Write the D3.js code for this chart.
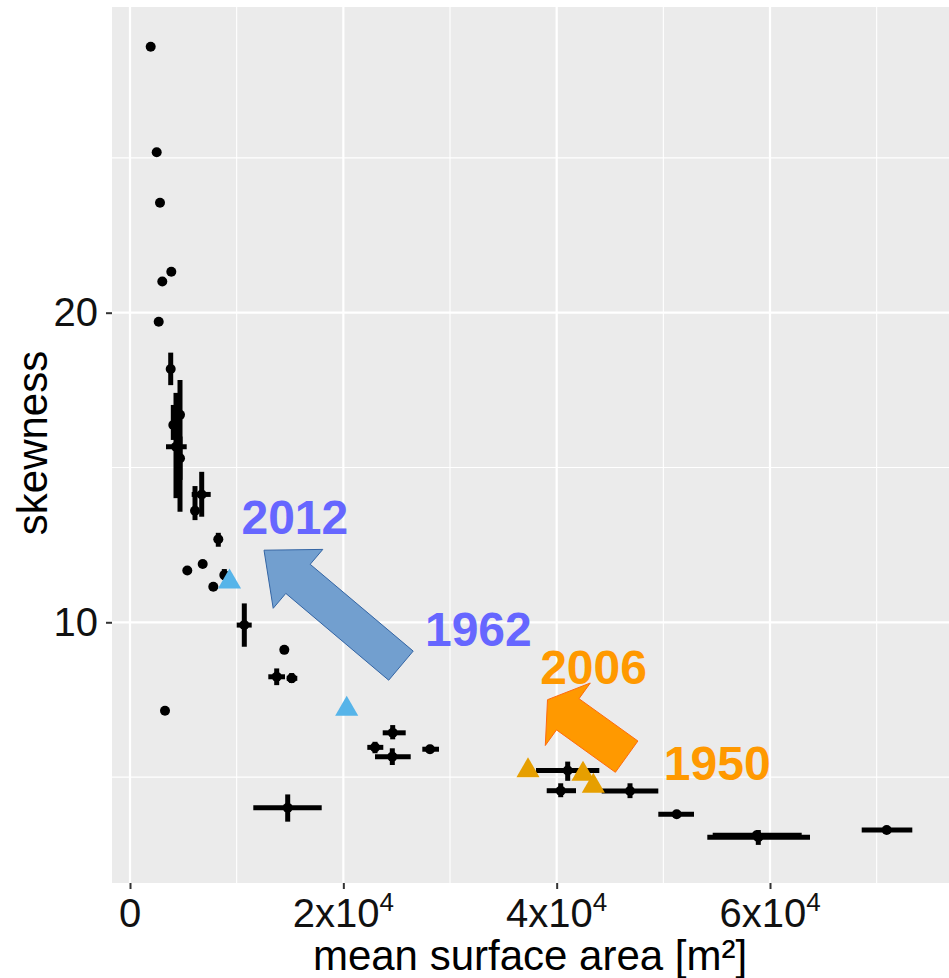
<!DOCTYPE html>
<html>
<head>
<meta charset="utf-8">
<script src="https://cdn.jsdelivr.net/npm/d3@7"></script>
<style>
  body { margin: 0; background: #fff; }
  svg { display: block; }
</style>
</head>
<body>
<div id="container"></div>
<script>
// black points: mean surface area (m2), skewness, and their ranges
let sa   = [1940, 2503, 2812, 3872, 3028, 2691, 3281, 3816, 4688, 4059, 4312, 4688, 6722, 6094, 8278, 5372, 6816, 7809, 8841, 10716, 14466, 13753, 15159, 24628, 22969, 24591, 28125, 14784, 41034, 40378, 46875, 51253, 58903, 58753, 70941];
let skew = [28.59, 25.18, 23.55, 21.32, 21.01, 19.71, 7.14, 18.18, 16.70, 16.37, 15.67, 15.30, 14.13, 13.60, 12.68, 11.67, 11.88, 11.15, 11.53, 9.91, 9.11, 8.24, 8.19, 6.43, 5.96, 5.66, 5.90, 4.01, 5.21, 4.56, 4.55, 3.80, 3.06, 3.12, 3.29];
let saLo = [1940, 2503, 2812, 3872, 3028, 2691, 3281, 3816, 4688, 4059, 3375, 4688, 5784, 6094, 8278, 5372, 6816, 7809, 8841, 10003, 14466, 12966, 14691, 23691, 22247, 22969, 27403, 11559, 38063, 39066, 44222, 49528, 54122, 54628, 68597];
let saHi = [1940, 2503, 2812, 3872, 3028, 2691, 3281, 3816, 4688, 4059, 5316, 4688, 7566, 6094, 8278, 5372, 6816, 7809, 8841, 11409, 14466, 14531, 15684, 25847, 23747, 26316, 28969, 17972, 43997, 41813, 49528, 52875, 63750, 62972, 73341];
let skLo = [28.59, 25.18, 23.55, 21.32, 21.01, 19.71, 7.14, 17.66, 13.57, 15.89, 14.01, 14.60, 13.41, 13.30, 12.44, 11.67, 11.88, 11.15, 11.37, 9.21, 9.11, 7.97, 8.04, 6.22, 5.77, 5.39, 5.77, 3.56, 4.88, 4.35, 4.32, 3.70, 2.81, 3.12, 3.29];
let skHi = [28.59, 25.18, 23.55, 21.32, 21.01, 19.71, 7.14, 18.71, 17.83, 17.02, 17.41, 16.00, 14.86, 14.40, 12.89, 11.67, 11.88, 11.15, 11.72, 10.61, 9.11, 8.51, 8.36, 6.68, 6.14, 5.93, 6.04, 4.44, 5.50, 4.80, 4.80, 3.88, 3.29, 3.12, 3.29];

// triangles: the two highlighted series
let triSa    = [9328, 20316, 37313, 42469, 43437];
let triSkew  = [11.31, 7.20, 5.21, 5.10, 4.71];
let triGroup = ["blue", "blue", "orange", "orange", "orange"];

// annotation years (left x, baseline y in data units)
let yearText  = ["2012", "1962", "2006", "1950"];
let yearSa    = [10450, 27650, 38450, 50050];
let yearSkew  = [12.85, 9.24, 8.00, 4.92];
let yearGroup = ["blue", "blue", "orange", "orange"];

// arrows: tail -> tip in data units
let arrowFromSa   = [25400, 46560];
let arrowFromSkew = [8.60, 5.66];
let arrowToSa     = [12560, 39140];
let arrowToSkew   = [12.33, 7.50];
let arrowGroup    = ["blue", "orange"];

// tick values
let xMajor = [0, 20000, 40000, 60000];
let xMinor = [10000, 30000, 50000, 70000];
let yMajor = [10, 20];
let yMinor = [5, 15, 25];

let w = 949;
let h = 978;
let pLeft = 112, pRight = 949, pTop = 7, pBottom = 883;

let viz = d3.select("#container")
  .append("svg")
    .attr("width", w)
    .attr("height", h)
    .style("font-family", "'Liberation Sans', Arial, sans-serif")
;

let xScale = d3.scaleLinear().domain([-1688, 76781]).range([pLeft, pRight]);
let yScale = d3.scaleLinear().domain([1.579, 29.874]).range([pBottom, pTop]);

// panel + grid
viz.append("rect")
  .attr("x", pLeft).attr("y", pTop)
  .attr("width", pRight - pLeft).attr("height", pBottom - pTop)
  .attr("fill", "#EBEBEB")
;
let grid = viz.append("g").attr("stroke", "#fff");
grid.selectAll(".xmin").data(xMinor).enter().append("line")
  .attr("x1", d => xScale(d)).attr("x2", d => xScale(d))
  .attr("y1", pTop).attr("y2", pBottom)
  .attr("stroke-width", 1.1)
;
grid.selectAll(".ymin").data(yMinor).enter().append("line")
  .attr("y1", d => yScale(d)).attr("y2", d => yScale(d))
  .attr("x1", pLeft).attr("x2", pRight)
  .attr("stroke-width", 1.1)
;
grid.selectAll(".xmaj").data(xMajor).enter().append("line")
  .attr("x1", d => xScale(d)).attr("x2", d => xScale(d))
  .attr("y1", pTop).attr("y2", pBottom)
  .attr("stroke-width", 2.2)
;
grid.selectAll(".ymaj").data(yMajor).enter().append("line")
  .attr("y1", d => yScale(d)).attr("y2", d => yScale(d))
  .attr("x1", pLeft).attr("x2", pRight)
  .attr("stroke-width", 2.2)
;

// axes
let xAxis = d3.axisBottom(xScale).tickValues(xMajor).tickSize(6).tickPadding(6).tickFormat("");
let xAxisGroup = viz.append("g").attr("class", "xaxis")
  .attr("transform", "translate(0," + pBottom + ")")
  .call(xAxis);
xAxisGroup.select(".domain").remove();
xAxisGroup.selectAll("line").attr("stroke", "#333").attr("stroke-width", 2);

let xLabels = viz.append("g").selectAll("text").data(xMajor).enter().append("text")
  .attr("x", d => xScale(d))
  .attr("y", 927)
  .attr("text-anchor", "middle")
  .attr("font-size", 40)
  .attr("fill", "#111")
;
xLabels.each(function(d){
  let t = d3.select(this);
  if (d == 0) { t.text("0"); return; }
  t.append("tspan").text((d / 10000) + "x10");
  t.append("tspan").text("4").attr("font-size", 26).attr("dy", -16);
});

let yAxis = d3.axisLeft(yScale).tickValues(yMajor).tickSize(6).tickPadding(8);
let yAxisGroup = viz.append("g").attr("class", "yaxis")
  .attr("transform", "translate(" + pLeft + ",0)")
  .call(yAxis);
yAxisGroup.select(".domain").remove();
yAxisGroup.selectAll("line").attr("stroke", "#333").attr("stroke-width", 2);
yAxisGroup.selectAll("text")
  .attr("font-size", 40)
  .attr("font-family", "'Liberation Sans', Arial, sans-serif")
  .attr("fill", "#111")
;

// axis titles
viz.append("text")
  .attr("x", 530).attr("y", 970)
  .attr("text-anchor", "middle")
  .attr("font-size", 42)
  .attr("fill", "#000")
  .text("mean surface area [m²]")
;

viz.append("text")
  .attr("transform", "translate(47,443) rotate(-90)")
  .attr("text-anchor", "middle")
  .attr("font-size", 42)
  .attr("fill", "#000")
  .text("skewness")
;

// error bars
let bars = viz.append("g").attr("stroke", "#000").attr("stroke-width", 5);
sa.forEach(function(d, i){
  if (saHi[i] > saLo[i]) {
    bars.append("line")
      .attr("x1", xScale(saLo[i])).attr("x2", xScale(saHi[i]))
      .attr("y1", yScale(skew[i])).attr("y2", yScale(skew[i]));
  }
  if (skHi[i] > skLo[i]) {
    bars.append("line")
      .attr("x1", xScale(d)).attr("x2", xScale(d))
      .attr("y1", yScale(skLo[i])).attr("y2", yScale(skHi[i]));
  }
});

// points
viz.append("g").selectAll("circle").data(sa).enter().append("circle")
  .attr("cx", d => xScale(d))
  .attr("cy", (d, i) => yScale(skew[i]))
  .attr("r", 5)
  .attr("fill", "#000")
;

let triColor = { blue: "#56B4E9", orange: "#E69F00" };
viz.append("g").selectAll("path").data(triSa).enter().append("path")
  .attr("d", d3.symbol(d3.symbolTriangle, 231))
  .attr("transform", (d, i) => "translate(" + xScale(d) + "," + yScale(triSkew[i]) + ")")
  .attr("fill", (d, i) => triColor[triGroup[i]])
;

// block arrows
let arrowFill   = { blue: "#729FCF", orange: "#FF9900" };
let arrowStroke = { blue: "#3465A4", orange: "#FF6A0E" };
let arrowShape  = { blue: [38, 77, 44.5], orange: [38.5, 77, 25] }; // shaft width, head width, head length

function arrowPath(x0, y0, x1, y1, shape) {
  let dx = x1 - x0, dy = y1 - y0;
  let len = Math.sqrt(dx*dx + dy*dy);
  let ux = dx/len, uy = dy/len;
  let nx = -uy, ny = ux;
  let sw = shape[0]/2, hw = shape[1]/2, hl = shape[2];
  let kx = x1 - ux*hl, ky = y1 - uy*hl;
  let pts = [
    [x0 + nx*sw, y0 + ny*sw],
    [kx + nx*sw, ky + ny*sw],
    [kx + nx*hw, ky + ny*hw],
    [x1, y1],
    [kx - nx*hw, ky - ny*hw],
    [kx - nx*sw, ky - ny*sw],
    [x0 - nx*sw, y0 - ny*sw]
  ];
  return "M" + pts.map(p => p[0].toFixed(1) + "," + p[1].toFixed(1)).join("L") + "Z";
}

viz.append("g").selectAll("path").data(arrowGroup).enter().append("path")
  .attr("d", (g, i) => arrowPath(xScale(arrowFromSa[i]), yScale(arrowFromSkew[i]), xScale(arrowToSa[i]), yScale(arrowToSkew[i]), arrowShape[g]))
  .attr("fill", g => arrowFill[g])
  .attr("stroke", g => arrowStroke[g])
  .attr("stroke-width", 1)
;

// year labels
let yearColor = { blue: "#6666FF", orange: "#FF9900" };
viz.append("g").selectAll("text").data(yearText).enter().append("text")
  .attr("x", (d, i) => xScale(yearSa[i]))
  .attr("y", (d, i) => yScale(yearSkew[i]))
  .attr("font-size", 48)
  .attr("font-weight", "bold")
  .attr("fill", (d, i) => yearColor[yearGroup[i]])
  .text(d => d)
;
</script>
</body>
</html>
